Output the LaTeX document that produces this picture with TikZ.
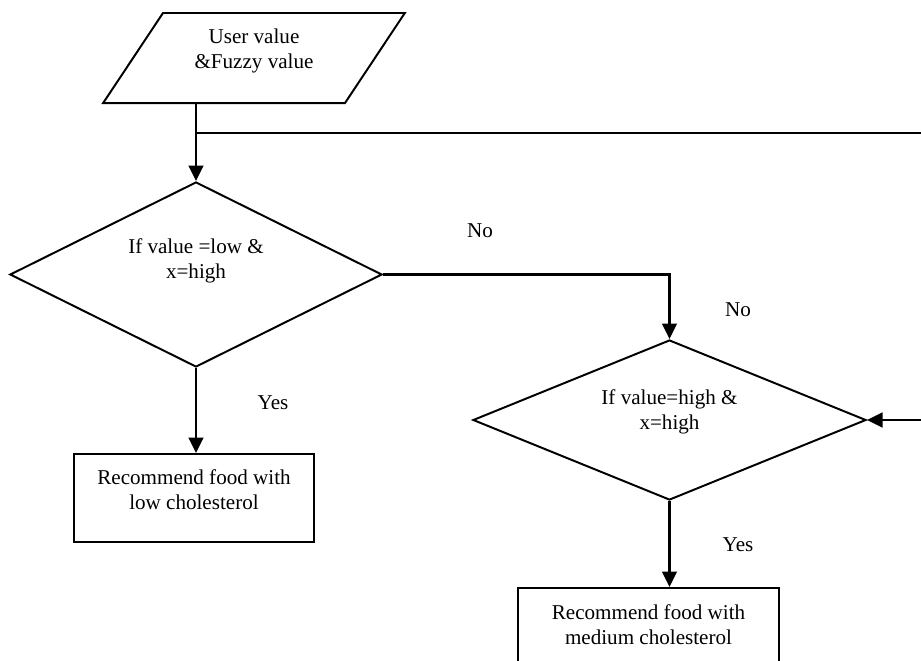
\documentclass[tikz,border=0pt]{standalone}
\usepackage{fontspec}
\setmainfont{Liberation Serif}
\usepackage{tikz}
\usetikzlibrary{shapes.geometric, arrows, arrows.meta, positioning, calc}
\tikzstyle{io} = [trapezium, trapezium left angle=56, trapezium right angle=124, trapezium stretches=true, minimum width=7.55cm, minimum height=2.25cm, inner sep=0pt, align=center, text depth=13pt, draw=black, line width=1.4pt]
\tikzstyle{decision} = [diamond, inner sep=0pt, align=center, draw=black, line width=1.4pt]
\tikzstyle{process} = [rectangle, minimum width=6cm, minimum height=2.2cm, inner sep=0pt, align=center, draw=black, line width=1.4pt]
\tikzstyle{arrow} = [line width=1.5pt,-{Triangle[length=11pt,width=10.5pt]}]
\tikzstyle{lbl} = [inner sep=0pt]

\begin{document}
\begin{tikzpicture}[x=0.025cm, y=-0.025cm, font=\fontsize{15}{17.8}\selectfont]
\useasboundingbox (0,0) rectangle (921,660);
\clip (0,0) rectangle (921,660);

\node[io] (in) at (254,58) {User value\\\&Fuzzy value};
\node[decision, aspect=2, minimum width=9.3cm, minimum height=4.625cm, text depth=22pt] (d1) at (196,274.5) {If value =low \&\\x=high};
\node[decision, aspect=2.46, minimum width=9.825cm, minimum height=4cm, text depth=15pt] (d2) at (669.5,420) {If value=high \&\\x=high};
\node[process, text depth=12pt] (b1) at (194,498) {Recommend food with\\low cholesterol};
\node[process, minimum width=6.525cm, text depth=10pt] (b2) at (648.5,632) {Recommend food with\\medium cholesterol};

% branch labels
\node[lbl] (no1) at (480,231) {No};
\node[lbl] (no2) at (738,310) {No};
\node[lbl] (yes1) at (273,403) {Yes};
\node[lbl] (yes2) at (738,545) {Yes};

\coordinate (split) at (196,133);
\coordinate (far) at (940,133);

\draw[arrow] (in.south -| d1.north) -- (d1.north);
\draw[line width=1pt] (split) -- (far);
\draw[arrow] (far) |- (d2.east);
\draw[arrow] (d1.east) -| (d2.north);
\draw[arrow] (d1.south) -- (d1.south |- b1.north);
\draw[arrow] (d2.south) -- (d2.south |- b2.north);
\end{tikzpicture}
\end{document}
